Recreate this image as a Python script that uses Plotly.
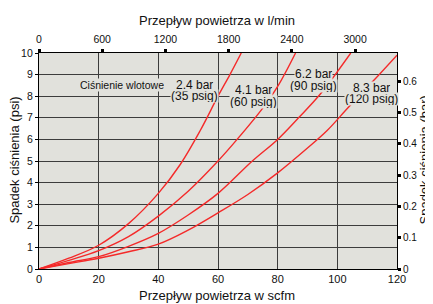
import plotly.graph_objects as go

# --- data ---
series_names = ["2.4 bar (35 psig)", "4.1 bar (60 psig)", "6.2 bar (90 psig)", "8.3 bar (120 psig)"]
flow_24 = [0, 10, 20, 30, 40, 47.4, 54, 60, 64, 67.8]
drop_24 = [0, 0.5, 1.1, 2.1, 3.5, 4.85, 6.4, 8.0, 9.0, 10.0]
flow_41 = [0, 10, 20, 30, 40, 50, 60, 66.4, 75, 80, 86]
drop_41 = [0, 0.4, 0.85, 1.5, 2.45, 3.6, 5.0, 6.0, 7.45, 8.45, 10.0]
flow_62 = [0, 10, 20, 30, 40, 50, 60, 71.5, 80, 87, 94.3, 104.5]
drop_62 = [0, 0.3, 0.57, 1.05, 1.65, 2.5, 3.5, 5.0, 6.0, 7.0, 8.1, 10.0]
flow_83 = [0, 10, 20, 30, 40, 50, 60, 70, 80, 90, 96.5, 103.8, 112, 120]
drop_83 = [0, 0.25, 0.5, 0.8, 1.15, 1.8, 2.6, 3.45, 4.45, 5.6, 6.4, 7.5, 8.7, 9.9]

x_ticks_scfm = [0, 20, 40, 60, 80, 100, 120]
x_ticks_lmin = [0, 600, 1200, 1800, 2400, 3000]
y_ticks_psi = list(range(0, 11))
y_ticks_bar = [0, 0.1, 0.2, 0.3, 0.4, 0.5, 0.6]

SCFM_TO_LMIN = 28.3168
PSI_TO_BAR = 0.0689476
X_MAX = 120
Y_MAX = 10

labels_top = ["2.4 bar", "4.1 bar", "6.2 bar", "8.3 bar"]
labels_bot = ["(35 psig)", "(60 psig)", "(90 psig)", "(120 psig)"]
label_x = [52.1, 71.9, 92.0, 111.6]
label_y_top = [8.54, 8.29, 9.02, 8.39]
label_y_bot = [8.0, 7.75, 8.48, 7.85]

title_bottom = "Przepływ powietrza w scfm"
title_top = "Przepływ powietrza w l/min"
title_left = "Spadek ciśnienia (psi)"
title_right = "Spadek ciśnienia (bar)"
inlet_label = "Ciśnienie wlotowe"

FONT = "Liberation Sans, Arial, sans-serif"
RED = "#f42a2a"
BG = "#e1e1dc"
GRID = "#3c3c3c"
TXT = "#111111"

fig = go.Figure()
for xs, ys, nm in [(flow_24, drop_24, series_names[0]), (flow_41, drop_41, series_names[1]),
                   (flow_62, drop_62, series_names[2]), (flow_83, drop_83, series_names[3])]:
    fig.add_trace(go.Scatter(x=xs, y=ys, mode="lines", name=nm,
                             line=dict(color=RED, width=1.4, shape="spline", smoothing=1.0),
                             showlegend=False, hoverinfo="skip"))

# invisible trace to anchor secondary axes
fig.add_trace(go.Scatter(x=[0, X_MAX * SCFM_TO_LMIN], y=[0, Y_MAX * PSI_TO_BAR],
                         xaxis="x2", yaxis="y2", mode="lines",
                         line=dict(width=0, color="rgba(0,0,0,0)"),
                         showlegend=False, hoverinfo="skip"))

annotations = [dict(x=27.8, y=8.52, xref="x", yref="y", text=inlet_label,
                    showarrow=False, font=dict(family=FONT, size=10.5, color=TXT),
                    bgcolor=BG, borderpad=0, height=12)]
for i in range(4):
    annotations.append(dict(x=label_x[i], y=label_y_bot[i], xref="x", yref="y",
                            text=labels_bot[i], showarrow=False,
                            font=dict(family=FONT, size=12, color=TXT),
                            bgcolor=BG, borderpad=0, height=12))
    annotations.append(dict(x=label_x[i], y=label_y_top[i], xref="x", yref="y",
                            text=labels_top[i], showarrow=False,
                            font=dict(family=FONT, size=12, color=TXT),
                            bgcolor=BG, borderpad=0, height=12))

# axis titles as paper annotations
tfont = dict(family=FONT, size=13, color=TXT)
annotations += [
    dict(x=0.497, y=1.15, xref="paper", yref="paper", text=title_top, showarrow=False,
         font=tfont, xanchor="center", yanchor="middle"),
    dict(x=0.497, y=-0.122, xref="paper", yref="paper", text=title_bottom, showarrow=False,
         font=tfont, xanchor="center", yanchor="middle"),
    dict(x=-0.068, y=0.505, xref="paper", yref="paper", text=title_left, showarrow=False,
         font=tfont, xanchor="center", yanchor="middle", textangle=-90),
    dict(x=1.077, y=0.505, xref="paper", yref="paper", text=title_right, showarrow=False,
         font=tfont, xanchor="center", yanchor="middle", textangle=-90),
]

fig.update_layout(
    width=425, height=296,
    margin=dict(l=31, r=36, t=45, b=35, autoexpand=False),
    paper_bgcolor="white", plot_bgcolor=BG,
    font=dict(family=FONT, size=10.5, color=TXT),
    annotations=annotations,
    xaxis=dict(range=[0, X_MAX], tickvals=x_ticks_scfm, showgrid=True, automargin=False,
               gridcolor=GRID, gridwidth=1.3, showline=True, linecolor="black",
               linewidth=1.3, mirror=True, zeroline=False, ticks="",
               tickfont=dict(size=11)),
    yaxis=dict(range=[0, Y_MAX], tickvals=y_ticks_psi, showgrid=True, automargin=False,
               gridcolor=GRID, gridwidth=1.3, showline=True, linecolor="black",
               linewidth=1.3, mirror=True, zeroline=False, ticks="outside",
               ticklen=3, tickcolor="black", tickfont=dict(size=10.5)),
    xaxis2=dict(range=[0, X_MAX * SCFM_TO_LMIN], tickvals=x_ticks_lmin, overlaying="x",
                side="top", showgrid=False, zeroline=False, ticks="outside", automargin=False,
                ticklen=3, tickwidth=3, tickcolor="black", tickfont=dict(size=10.5),
                ticklabelstandoff=2),
    yaxis2=dict(range=[0, Y_MAX * PSI_TO_BAR], tickvals=y_ticks_bar, overlaying="y",
                side="right", showgrid=False, zeroline=False, ticks="outside", automargin=False,
                ticklen=3, tickwidth=3, tickcolor="black", tickfont=dict(size=10)),
)

fig.write_html("out.html")
